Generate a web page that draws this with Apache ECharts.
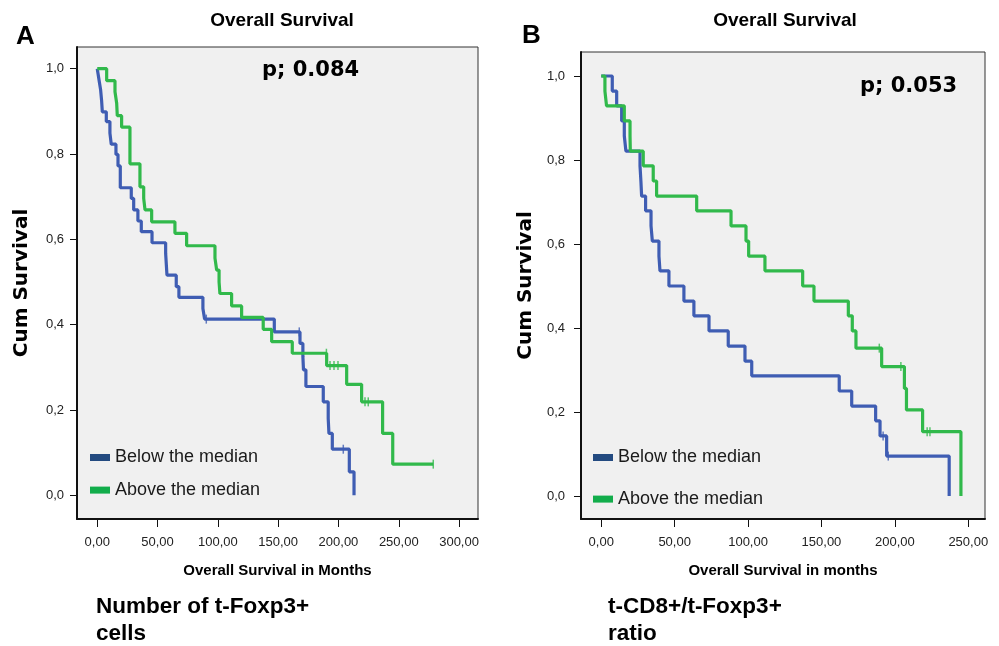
<!DOCTYPE html>
<html>
<head>
<meta charset="utf-8">
<script src="https://cdn.jsdelivr.net/npm/echarts@6/dist/echarts.min.js"></script>
<style>
  html, body { margin: 0; padding: 0; background: #fff; }
  #chart { width: 999px; height: 646px; }
</style>
</head>
<body>
<div id="chart"></div>
<script>
// ---- tick labels ----
var xTicksA = [0, 50, 100, 150, 200, 250, 300];
var xTicksB = [0, 50, 100, 150, 200, 250];
var yTicks = [0, 0.2, 0.4, 0.6, 0.8, 1.0];

// ---- panel A: Number of t-Foxp3+ cells ----
var timeA_below = [0, 1.4, 2.8, 3.6, 4.2, 7.5, 10.5, 11.6, 15.5, 17.2, 19.1, 28.2, 30.2, 33.7, 36.5, 45.4, 56.7, 57.8, 65.5, 67.7, 87.6, 89.0, 146.8, 168.1, 170.5, 171.0, 173.0, 187.4, 191.5, 192.1, 194.9, 209.0, 212.9];
var survA_below = [1.0, 0.975, 0.950, 0.925, 0.899, 0.876, 0.849, 0.823, 0.799, 0.772, 0.721, 0.696, 0.669, 0.643, 0.618, 0.592, 0.567, 0.516, 0.489, 0.464, 0.438, 0.413, 0.383, 0.356, 0.325, 0.294, 0.255, 0.219, 0.180, 0.145, 0.108, 0.055, 0.0];
var timeA_above = [0, 7.8, 14.7, 16.1, 16.6, 20.2, 27.1, 35.4, 38.5, 39.6, 45.1, 64.4, 74.1, 97.6, 99.0, 101.0, 101.7, 111.4, 119.7, 137.6, 144.6, 161.7, 190.2, 206.8, 219.2, 236.6, 245.0, 278.6];
var survA_above = [1.0, 0.972, 0.946, 0.919, 0.890, 0.863, 0.777, 0.723, 0.696, 0.669, 0.641, 0.614, 0.585, 0.556, 0.528, 0.500, 0.473, 0.444, 0.417, 0.389, 0.360, 0.333, 0.304, 0.260, 0.219, 0.145, 0.073, 0.073];
var censA_below_t = [90.4, 167.5, 204.0];
var censA_below_s = [0.413, 0.383, 0.108];
var censA_above_t = [190.0, 193.0, 196.3, 199.6, 222.0, 224.7, 278.6];
var censA_above_s = [0.333, 0.304, 0.304, 0.304, 0.219, 0.219, 0.073];

// ---- panel B: t-CD8+/t-Foxp3+ ratio ----
var timeB_below = [0, 7.5, 10.5, 13.9, 15.7, 16.8, 26.4, 27.0, 27.5, 30.2, 33.9, 34.8, 39.3, 40.0, 46.1, 56.3, 63.1, 73.4, 86.5, 97.9, 102.5, 162.1, 170.6, 186.9, 189.9, 194.4, 237.0];
var survB_below = [1.0, 0.964, 0.929, 0.893, 0.857, 0.821, 0.786, 0.750, 0.714, 0.679, 0.643, 0.607, 0.571, 0.536, 0.500, 0.464, 0.429, 0.393, 0.357, 0.321, 0.286, 0.250, 0.214, 0.179, 0.143, 0.095, 0.0];
var timeB_above = [0, 2.5, 3.6, 15.7, 19.6, 19.8, 28.6, 35.4, 37.7, 65.0, 88.4, 98.6, 100.4, 111.5, 137.2, 144.9, 168.3, 171.0, 173.5, 191.0, 206.5, 207.9, 218.9, 245.0];
var survB_above = [1.0, 0.964, 0.929, 0.893, 0.857, 0.821, 0.786, 0.750, 0.714, 0.679, 0.643, 0.607, 0.571, 0.536, 0.500, 0.464, 0.429, 0.393, 0.352, 0.308, 0.256, 0.205, 0.153, 0.0];
var censB_below_t = [192.0, 195.5];
var censB_below_s = [0.143, 0.095];
var censB_above_t = [189.4, 204.1, 222.0, 223.9];
var censB_above_s = [0.352, 0.308, 0.153, 0.153];

var blue = '#3f5db3';
var green = '#31b94b';
var blueDark = '#234a80';
var greenDark = '#12ad4b';
var narrow = "'Liberation Sans Narrow', 'Liberation Sans', Arial, sans-serif";
var arial = "'Liberation Sans', Arial, sans-serif";
var wide = "'DejaVu Sans', sans-serif";

function zip(t, s) {
  return t.map(function (v, i) { return [v, s[i]]; });
}

function xAxisFor(gi, min, max, ticks, name) {
  return {
    gridIndex: gi, type: 'value', min: min, max: max,
    axisLine: { show: true, onZero: false, lineStyle: { color: '#111', width: 2 } },
    axisTick: { show: true, length: 8, customValues: ticks, lineStyle: { color: '#111' } },
    axisLabel: {
      customValues: ticks, margin: 17, fontSize: 13, fontFamily: narrow, color: '#222',
      formatter: function (v) { return v.toFixed(2).replace('.', ','); }
    },
    splitLine: { show: false },
    name: name, nameLocation: 'middle', nameGap: 44,
    nameTextStyle: { fontFamily: narrow, fontWeight: 'bold', fontSize: 15, color: '#000' }
  };
}

function yAxisFor(gi, min, max, margin) {
  return {
    gridIndex: gi, type: 'value', min: min, max: max,
    axisLine: { show: true, onZero: false, lineStyle: { color: '#111', width: 2 } },
    axisTick: { show: true, length: 7, customValues: yTicks, lineStyle: { color: '#111' } },
    axisLabel: {
      customValues: yTicks, margin: margin, fontSize: 13, fontFamily: narrow, color: '#222',
      formatter: function (v) { return v.toFixed(1).replace('.', ','); }
    },
    splitLine: { show: false },
    name: 'Cum Survival', nameLocation: 'middle', nameGap: 45,
    nameTextStyle: { fontFamily: wide, fontWeight: 'bold', fontSize: 20, color: '#000' }
  };
}

function kmLine(name, gi, data, color) {
  return {
    name: name, type: 'line', xAxisIndex: gi, yAxisIndex: gi,
    step: 'end', data: data, showSymbol: false, symbol: 'none',
    lineStyle: { color: color, width: 3.2 }, itemStyle: { color: color }
  };
}

function censor(name, gi, data, color) {
  return {
    name: name, type: 'scatter', xAxisIndex: gi, yAxisIndex: gi,
    data: data, symbol: 'rect', symbolSize: [1.5, 9], z: 3,
    itemStyle: { color: color }
  };
}

function legendFor(left, gap) {
  return {
    left: left, top: 448, orient: 'vertical', padding: 0,
    itemWidth: 20, itemHeight: 7, itemGap: gap, icon: 'rect',
    textStyle: { fontSize: 18, fontFamily: arial, color: '#1a1a1a', lineHeight: 19 },
    data: [
      { name: 'Below the median', itemStyle: { color: blueDark, borderWidth: 0 }, lineStyle: { width: 0 } },
      { name: 'Above the median', itemStyle: { color: greenDark, borderWidth: 0 }, lineStyle: { width: 0 } }
    ]
  };
}

function label(text, x, y, font, align) {
  return {
    type: 'text', x: x, y: y,
    style: { text: text, font: font, fill: '#000', align: align || 'left', verticalAlign: 'middle', lineHeight: 27 }
  };
}

var chart = echarts.init(document.getElementById('chart'));

var option = {
  animation: false,
  backgroundColor: '#fff',
  grid: [
    { left: 77, top: 47, width: 401, height: 472, show: true, backgroundColor: '#f0f0f0', borderColor: '#333', borderWidth: 1 },
    { left: 581, top: 52, width: 404, height: 467, show: true, backgroundColor: '#f0f0f0', borderColor: '#333', borderWidth: 1 }
  ],
  xAxis: [
    xAxisFor(0, -16.8, 315.7, xTicksA, 'Overall Survival in Months'),
    xAxisFor(1, -13.8, 261.4, xTicksB, 'Overall Survival in months')
  ],
  yAxis: [
    yAxisFor(0, -0.0556, 1.0509, 13),
    yAxisFor(1, -0.0548, 1.0571, 16)
  ],
  legend: [legendFor(90, 13.6), legendFor(593, 22.6)],
  series: [
    kmLine('Below the median', 0, zip(timeA_below, survA_below), blue),
    kmLine('Above the median', 0, zip(timeA_above, survA_above), green),
    censor('Below censored A', 0, zip(censA_below_t, censA_below_s), blue),
    censor('Above censored A', 0, zip(censA_above_t, censA_above_s), green),
    kmLine('Below the median', 1, zip(timeB_below, survB_below), blue),
    kmLine('Above the median', 1, zip(timeB_above, survB_above), green),
    censor('Below censored B', 1, zip(censB_below_t, censB_below_s), blue),
    censor('Above censored B', 1, zip(censB_above_t, censB_above_s), green)
  ],
  graphic: [
    label('A', 16, 37, 'bold 26px ' + arial),
    label('B', 522, 36, 'bold 26px ' + arial),
    label('Overall Survival', 282, 21, 'bold 19px ' + narrow, 'center'),
    label('Overall Survival', 785, 21, 'bold 19px ' + narrow, 'center'),
    label('p; 0.084', 262, 71, 'bold 21px ' + wide),
    label('p; 0.053', 860, 87, 'bold 21px ' + wide),
    label('Number of t-Foxp3+\ncells', 96, 620, 'bold 22.5px ' + arial),
    label('t-CD8+/t-Foxp3+\nratio', 608, 620, 'bold 22.5px ' + arial)
  ]
};

chart.setOption(option);
</script>
</body>
</html>
